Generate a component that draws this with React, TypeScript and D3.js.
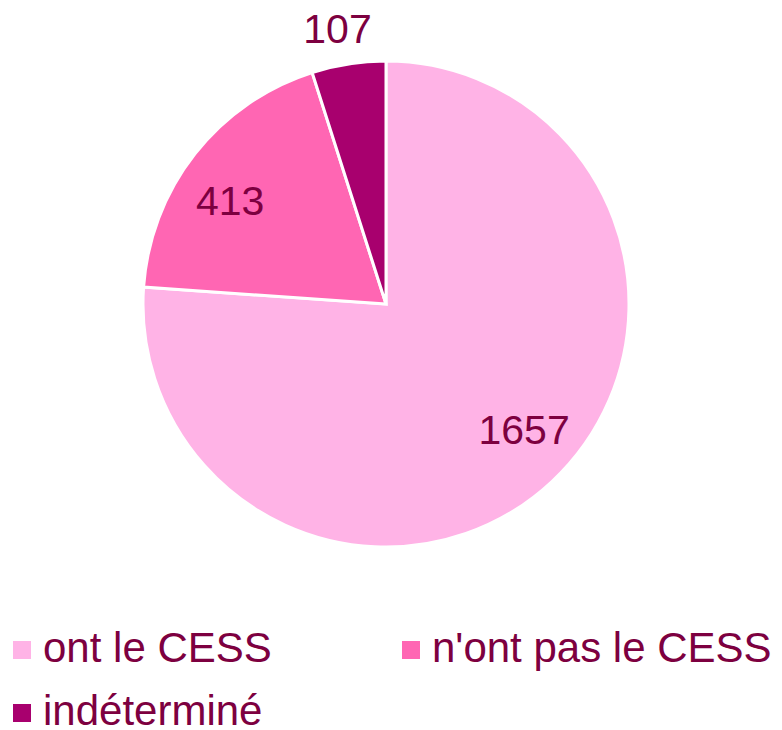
import React from "react";
import * as d3 from "d3";

const categories = ["ont le CESS", "n'ont pas le CESS", "indéterminé"];
const values = [1657, 413, 107];
const colors = ["#FFB3E6", "#FF66B3", "#A8006E"];
const textColor = "#7D0040";

const W = 782;
const H = 730;
const cx = 386;
const cy = 304;
const R = 243;

export default function App() {
  const pie = d3
    .pie<number>()
    .sort(null)
    .value((d) => d)
    .startAngle(0)
    .endAngle(2 * Math.PI);
  const arcs = pie(values);
  const arc = d3.arc<d3.PieArcDatum<number>>().innerRadius(0).outerRadius(R);

  const labelPos = (a: d3.PieArcDatum<number>) => {
    const frac = (a.endAngle - a.startAngle) / (2 * Math.PI);
    const outside = frac < 0.1;
    const k = outside ? 1.15 : 0.77;
    const shift = outside ? -0.02 : -0.08;
    const mid = (a.startAngle + a.endAngle) / 2 + shift;
    return [Math.sin(mid) * R * k, -Math.cos(mid) * R * k];
  };

  const legendCols = [13, 402];
  const legendRows = [641, 704];

  return (
    <svg
      width={W}
      height={H}
      style={{ position: "absolute", left: 0, top: 0, background: "#fff" }}
      fontFamily="'Liberation Sans', Arial, sans-serif"
    >
      <g transform={`translate(${cx},${cy})`}>
        {arcs.map((a, i) => (
          <path key={i} d={arc(a) || ""} fill={colors[i]} stroke="#fff" strokeWidth={3} strokeLinejoin="miter" />
        ))}
        {arcs.map((a, i) => {
          const [x, y] = labelPos(a);
          return (
            <text
              key={"l" + i}
              x={x}
              y={y}
              textAnchor="middle"
              dominantBaseline="central"
              fontSize={41}
              fill={textColor}
            >
              {values[i]}
            </text>
          );
        })}
      </g>
      {categories.map((c, i) => {
        const col = i % 2;
        const row = Math.floor(i / 2);
        const x = legendCols[col];
        const y = legendRows[row];
        return (
          <g key={"g" + i}>
            <rect x={x} y={y} width={18} height={18} fill={colors[i]} />
            <text x={x + 30} y={y + 21} fontSize={42} fill={textColor}>
              {c}
            </text>
          </g>
        );
      })}
    </svg>
  );
}
